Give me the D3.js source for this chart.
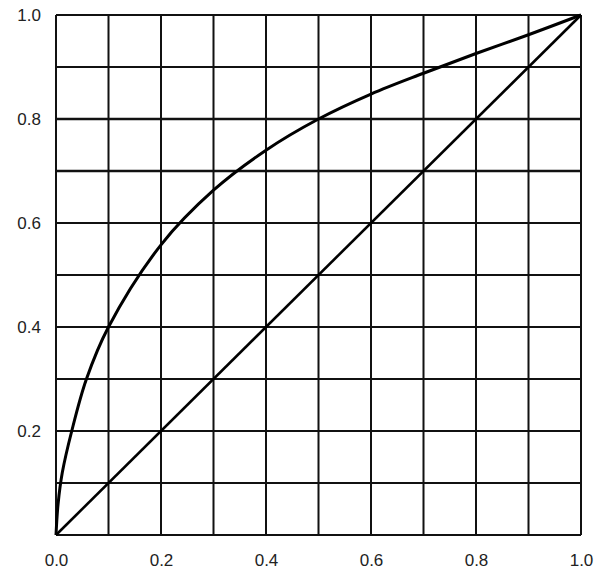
<!DOCTYPE html>
<html><head><meta charset="utf-8">
<script src="https://cdn.jsdelivr.net/npm/d3@7"></script>
<style>
html,body{margin:0;padding:0;background:#fff;}
svg{display:block;}
</style></head>
<body>
<svg id="chart" width="605" height="576"></svg>
<script>
const gridValues = [0,0.1,0.2,0.3,0.4,0.5,0.6,0.7,0.8,0.9,1.0];
const xTickLabels = [0.0,0.2,0.4,0.6,0.8,1.0];
const yTickLabels = [0.2,0.4,0.6,0.8,1.0];
const curveX = [0,0.004,0.012,0.03,0.058,0.1,0.2,0.3,0.4,0.5,0.6,0.7,0.8,0.9,1.0];
const curveY = [0,0.06,0.12,0.2,0.3,0.4,0.558,0.663,0.74,0.8,0.848,0.888,0.926,0.962,1.0];
const diagX = [0,1];
const diagY = [0,1];

const svg = d3.select('#chart');
const L = 56, R = 581, T = 15, B = 535;
const x = d3.scaleLinear().domain([0,1]).range([L,R]);
const y = d3.scaleLinear().domain([0,1]).range([B,T]);

const font = '"Liberation Sans", Arial, sans-serif';

// grid
const grid = svg.append('g');
grid.selectAll('line.v').data(gridValues).enter().append('line')
  .attr('x1', d=>x(d)).attr('x2', d=>x(d)).attr('y1', y(0)).attr('y2', y(1))
  .attr('stroke', '#111').attr('stroke-width', 2);
grid.selectAll('line.h').data(gridValues).enter().append('line')
  .attr('y1', d=>y(d)).attr('y2', d=>y(d)).attr('x1', x(0)).attr('x2', x(1))
  .attr('stroke', '#111').attr('stroke-width', d => (d===0.7||d===0.8) ? 2.6 : 2);

// axes labels via d3 axes
const xAxis = d3.axisBottom(x).tickValues(xTickLabels).tickFormat(d3.format('.1f')).tickSize(0).tickPadding(19);
const gx = svg.append('g').attr('transform', `translate(0,${B})`).call(xAxis);
gx.select('.domain').remove();
gx.selectAll('text').attr('font-family', font).attr('font-size', 17).attr('fill', '#222');

const yAxis = d3.axisLeft(y).tickValues(yTickLabels).tickFormat(d3.format('.1f')).tickSize(0).tickPadding(15);
const gy = svg.append('g').attr('transform', `translate(${L},0)`).call(yAxis);
gy.select('.domain').remove();
gy.selectAll('text').attr('font-family', font).attr('font-size', 17).attr('fill', '#222');

// diagonal
const line = d3.line().x(d=>x(d[0])).y(d=>y(d[1]));
svg.append('path').datum(d3.zip(diagX, diagY)).attr('d', line)
  .attr('fill','none').attr('stroke','#000').attr('stroke-width',2.6);

// curve
const cline = d3.line().x(d=>x(d[0])).y(d=>y(d[1])).curve(d3.curveCatmullRom.alpha(0.5));
svg.append('path').datum(d3.zip(curveX, curveY)).attr('d', cline)
  .attr('fill','none').attr('stroke','#000').attr('stroke-width',3);
</script>
</body></html>
